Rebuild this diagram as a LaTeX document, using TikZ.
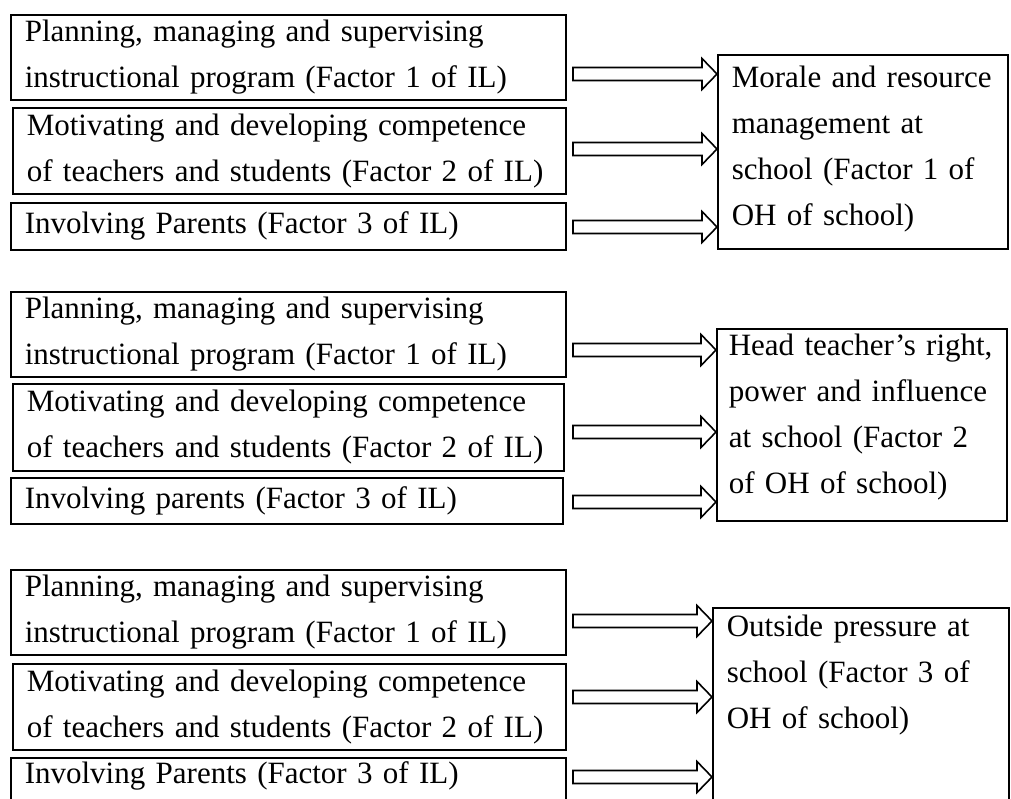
\documentclass[tikz,border=0pt]{standalone}
\usepackage{fontspec}
\setmainfont{Liberation Serif}
\usetikzlibrary{calc}
\newcommand\hollowarr[2]{%
  \draw[harrow] ($(#1)+(0,-6.5)$) -- ($(#2)+(-15,-6.5)$) -- ($(#2)+(-15,-15.5)$) -- (#2)
    -- ($(#2)+(-15,15.5)$) -- ($(#2)+(-15,6.5)$) -- ($(#1)+(0,6.5)$) -- cycle;}
\begin{document}
\begin{tikzpicture}[x=1pt,y=-1pt,
  txt/.style={font=\fontsize{31}{46}\selectfont},
  lbox/.style={txt, draw, line width=1.6pt, rectangle, anchor=north west,
    inner xsep=14pt, inner ysep=0pt, align=left},
  rbox/.style={txt, draw, line width=1.6pt, rectangle, anchor=north west,
    inner xsep=14pt, inner ysep=0pt, align=left},
  harrow/.style={draw, line width=1.6pt, fill=white, line join=miter}]
\useasboundingbox (0,0) rectangle (1011,798);
\clip (0,0) rectangle (1011,798);

% ---------- Group 1 ----------
\node[lbox, text width=527pt, minimum height=85pt] (A1) at (10,14)
  {Planning, managing and supervising\\instructional program (Factor 1 of IL)};
\node[lbox, text width=525pt, minimum height=86pt] (A2) at (12,107)
  {Motivating and developing competence\\of teachers and students (Factor 2 of IL)};
\node[lbox, text width=527pt, minimum height=47pt] (A3) at (10,202)
  {Involving Parents (Factor 3 of IL)};
\node[rbox, text width=262pt, text height=33pt, text depth=161pt] (RA) at (717,54)
  {Morale and resource\\management at\\school (Factor 1 of\\OH of school)};

\coordinate (sa1) at (573,74);
\coordinate (sa2) at (573,149);
\coordinate (sa3) at (573,227);
\coordinate (ta1) at (RA.west |- sa1);
\coordinate (ta2) at (RA.west |- sa2);
\coordinate (ta3) at (RA.west |- sa3);
\hollowarr{sa1}{ta1}
\hollowarr{sa2}{ta2}
\hollowarr{sa3}{ta3}

% ---------- Group 2 ----------
\node[lbox, text width=527pt, minimum height=85pt] (B1) at (10,291)
  {Planning, managing and supervising\\instructional program (Factor 1 of IL)};
\node[lbox, text width=523pt, minimum height=87pt] (B2) at (12,383)
  {Motivating and developing competence\\of teachers and students (Factor 2 of IL)};
\node[lbox, text width=524pt, minimum height=46pt] (B3) at (10,477)
  {Involving parents (Factor 3 of IL)};
\node[rbox, text width=266pt, text height=27pt, text depth=165pt, inner xsep=12pt] (RB) at (716,328)
  {Head teacher’s right,\\power and influence\\at school (Factor 2\\of OH of school)};

\coordinate (sb1) at (573,350);
\coordinate (sb2) at (573,432);
\coordinate (sb3) at (573,502);
\coordinate (tb1) at (RB.west |- sb1);
\coordinate (tb2) at (RB.west |- sb2);
\coordinate (tb3) at (RB.west |- sb3);
\hollowarr{sb1}{tb1}
\hollowarr{sb2}{tb2}
\hollowarr{sb3}{tb3}

% ---------- Group 3 ----------
\node[lbox, text width=527pt, minimum height=85pt] (C1) at (10,569)
  {Planning, managing and supervising\\instructional program (Factor 1 of IL)};
\node[lbox, text width=525pt, minimum height=86pt] (C2) at (12,663)
  {Motivating and developing competence\\of teachers and students (Factor 2 of IL)};
\node[lbox, text width=527pt, text height=26pt, text depth=34pt] (C3) at (10,757)
  {Involving Parents (Factor 3 of IL)};
\node[rbox, text width=268pt, text height=29pt, text depth=180pt] (RC) at (712,607)
  {Outside pressure at\\school (Factor 3 of\\OH of school)};

\coordinate (sc1) at (573,621);
\coordinate (sc2) at (573,697);
\coordinate (sc3) at (573,777);
\coordinate (tc1) at (RC.west |- sc1);
\coordinate (tc2) at (RC.west |- sc2);
\coordinate (tc3) at (RC.west |- sc3);
\hollowarr{sc1}{tc1}
\hollowarr{sc2}{tc2}
\hollowarr{sc3}{tc3}
\end{tikzpicture}
\end{document}
